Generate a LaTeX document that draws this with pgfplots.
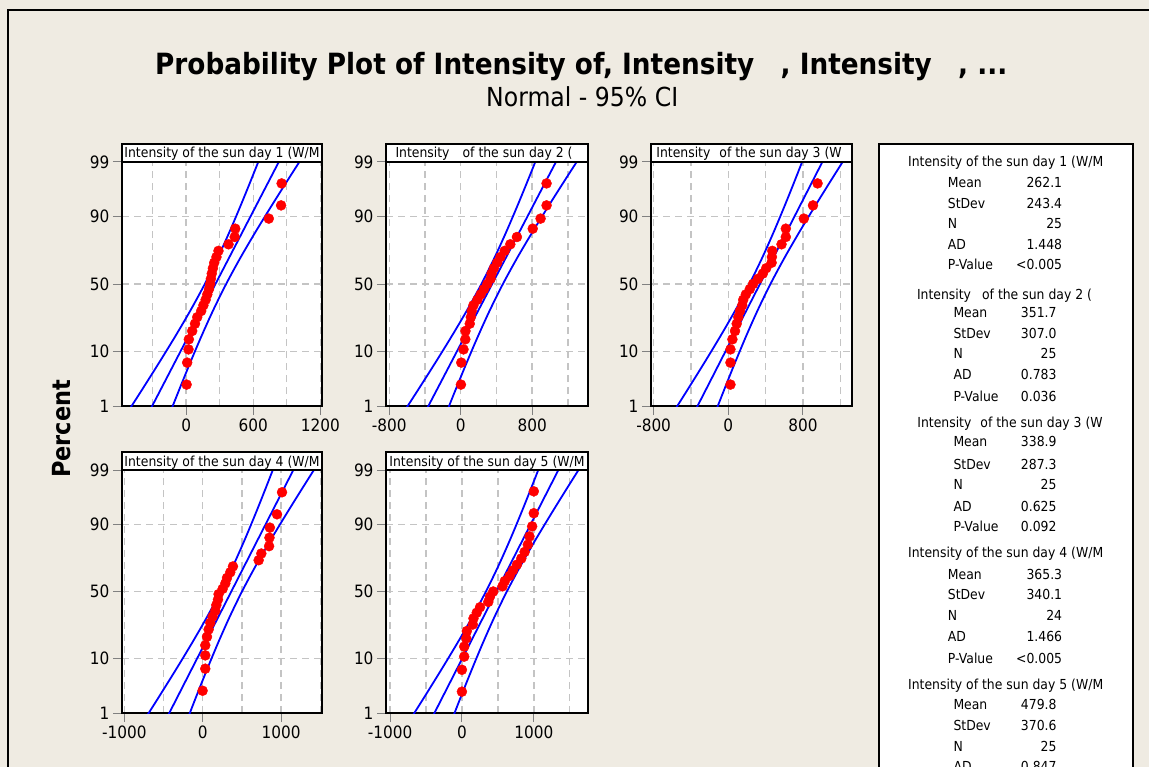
\documentclass[border=0pt]{standalone}
\usepackage{fontspec}
\setmainfont{DejaVu Sans}[FakeStretch=0.9]
\usepackage{pgfplots}
\usepackage{pgfplotstable}
\pgfplotsset{compat=1.18}
\usepackage{graphicx}
\definecolor{bgc}{RGB}{239,235,226}
\definecolor{gridc}{RGB}{196,196,196}
\newcommand{\sfnt}{\fontsize{13.8}{15}\selectfont}

\pgfplotstableread{
z L F U
-2.5 -540.2 -346.4 -152.6
-2.0 -390.0 -224.7 -59.4
-1.5 -242.1 -103.0 36.1
-1.0 -98.2 18.7 135.6
-0.5 39.2 140.4 241.6
0 166.7 262.1 357.5
0.5 282.6 383.8 485.0
1.0 388.7 505.5 622.4
1.5 488.1 627.2 766.3
2.0 583.6 748.9 914.2
2.5 676.8 870.6 1064.4
}\bandA
\pgfplotstableread{
z L F U
-2.5 -660.2 -415.8 -171.4
-2.0 -470.7 -262.3 -53.9
-1.5 -284.2 -108.8 66.6
-1.0 -102.7 44.7 192.1
-0.5 70.6 198.2 325.8
0 231.4 351.7 472.0
0.5 377.6 505.2 632.8
1.0 511.3 658.7 806.1
1.5 636.8 812.2 987.6
2.0 757.3 965.7 1174.1
2.5 874.8 1119.2 1363.6
}\bandB
\pgfplotstableread{
z L F U
-2.5 -608.1 -379.4 -150.6
-2.0 -430.8 -235.7 -40.6
-1.5 -256.2 -92.1 72.1
-1.0 -86.3 51.6 189.5
-0.5 75.8 195.3 314.7
0 226.3 338.9 451.5
0.5 363.1 482.6 602.0
1.0 488.3 626.2 764.1
1.5 605.7 769.9 934.0
2.0 718.4 913.5 1108.6
2.5 828.4 1057.2 1285.9
}\bandC
\pgfplotstableread{
z L F U
-2.5 -761.3 -485.0 -208.6
-2.0 -550.6 -314.9 -79.2
-1.5 -343.2 -144.9 53.5
-1.0 -141.5 25.2 191.9
-0.5 50.9 195.3 339.6
0 229.2 365.3 501.4
0.5 391.0 535.4 679.7
1.0 538.8 705.4 872.1
1.5 677.1 875.5 1073.8
2.0 809.8 1045.5 1281.2
2.5 939.2 1215.6 1491.9
}\bandD
\pgfplotstableread{
z L F U
-2.5 -741.8 -446.7 -151.6
-2.0 -513.0 -261.4 -9.8
-1.5 -287.9 -76.1 135.7
-1.0 -68.7 109.2 287.1
-0.5 140.4 294.5 448.6
0 334.5 479.8 625.1
0.5 511.0 665.1 819.2
1.0 672.5 850.4 1028.3
1.5 823.9 1035.7 1247.5
2.0 969.4 1221.0 1472.6
2.5 1111.2 1406.3 1701.4
}\bandE

\pgfplotsset{
  panel/.style={
    scale only axis,
    ymin=-2.3263, ymax=2.3263,
    ytick={-2.3263,-1.2816,0,1.2816,2.3263},
    yticklabels={1,10,50,90,99},
    tick pos=left, tick align=outside,
    major tick length=9pt, minor tick length=0pt,
    tick style={line width=1pt},
    axis line style={black, line width=1.6pt},
    xmajorgrids, ymajorgrids, xminorgrids,
    major grid style={gridc, line width=1.4pt, dash pattern=on 7pt off 5pt},
    minor grid style={gridc, line width=1.4pt, dash pattern=on 7pt off 5pt},
    axis background/.style={fill=white},
    ticklabel style={font=\fontsize{17}{19}\selectfont},
    /pgf/number format/assume math mode=true,
    /pgf/number format/1000 sep={},
    scaled x ticks=false,
  },
  band/.style={blue, line width=1.8pt, smooth},
  fitl/.style={blue, line width=1.8pt},
  pts/.style={only marks, mark=*, mark size=5pt, mark options={fill=red, draw=red}, red},
}

\begin{document}
\begin{tikzpicture}
\useasboundingbox (0pt,0pt) rectangle (1149pt,-767pt);
\clip (0pt,0pt) rectangle (1149pt,-767pt);
\begin{scope}[x=1pt,y=-1pt]
\fill[bgc] (0,0) rectangle (1149,767);
\draw[line width=1.8pt] (8,767) -- (8,10) -- (1149,10);
\node[anchor=base west, inner sep=0pt] at (155,75) {\resizebox{852pt}{!}{\bfseries Probability Plot of Intensity of, Intensity\hspace{0.9em}, Intensity\hspace{0.9em}, ...}};
\node[anchor=base west, inner sep=0pt] at (486,106.7) {\resizebox{192pt}{!}{Normal - 95\% CI}};
\node[rotate=90, anchor=base west, inner sep=0pt] at (70,478) {\resizebox{98pt}{!}{\bfseries Percent}};
\end{scope}

% Panel 1
\begin{axis}[panel, at={(122pt,-162pt)}, anchor=north west, width=200pt, height=244pt,
  xmin=-574, xmax=1215, xtick={0,600,1200}, minor xtick={-300,300,900}]
\addplot[band] table[x=L,y=z] {\bandA};
\addplot[band] table[x=U,y=z] {\bandA};
\addplot[fitl] table[x=F,y=z] {\bandA};
\addplot[pts] coordinates {(4,-1.918) (9,-1.499) (21,-1.247) (24,-1.055) (54,-0.896) (79,-0.757) (99,-0.632) (134,-0.515) (154,-0.406) (174,-0.301) (189,-0.199) (204,-0.099) (214,0) (221,0.099) (229,0.199) (239,0.301) (251,0.406) (271,0.515) (289,0.632) (379,0.757) (434,0.896) (439,1.055) (739,1.247) (849,1.499) (854,1.918)};
\end{axis}

% Panel 2
\begin{axis}[panel, at={(386pt,-162pt)}, anchor=north west, width=202pt, height=244pt,
  xmin=-837, xmax=1425, xtick={-800,0,800}, minor xtick={-400,400,1200}]
\addplot[band] table[x=L,y=z] {\bandB};
\addplot[band] table[x=U,y=z] {\bandB};
\addplot[fitl] table[x=F,y=z] {\bandB};
\addplot[pts] coordinates {(2,-1.918) (6,-1.499) (31,-1.247) (51,-1.055) (53,-0.896) (101,-0.757) (113,-0.632) (123,-0.515) (142,-0.406) (186,-0.301) (223,-0.199) (260,-0.099) (297,0) (334,0.099) (345,0.199) (371,0.301) (408,0.406) (444,0.515) (492,0.632) (555,0.757) (629,0.896) (806,1.055) (894,1.247) (961,1.499) (961,1.918)};
\end{axis}

% Panel 3
\begin{axis}[panel, at={(651pt,-162pt)}, anchor=north west, width=201pt, height=244pt,
  xmin=-828, xmax=1325, xtick={-800,0,800}, minor xtick={-400,400,1200}]
\addplot[band] table[x=L,y=z] {\bandC};
\addplot[band] table[x=U,y=z] {\bandC};
\addplot[fitl] table[x=F,y=z] {\bandC};
\addplot[pts] coordinates {(23,-1.918) (23,-1.499) (23,-1.247) (44,-1.055) (72,-0.896) (90,-0.757) (107,-0.632) (125,-0.515) (149,-0.406) (160,-0.301) (188,-0.199) (230,-0.099) (265,0) (318,0.099) (370,0.199) (406,0.301) (464,0.406) (467,0.515) (471,0.632) (570,0.757) (616,0.896) (616,1.055) (809,1.247) (907,1.499) (956,1.918)};
\end{axis}

% Panel 4
\begin{axis}[panel, at={(122pt,-470pt)}, anchor=north west, width=200pt, height=243pt,
  xmin=-1029, xmax=1522, xtick={-1000,0,1000}, minor xtick={-500,500,1500}]
\addplot[band] table[x=L,y=z] {\bandD};
\addplot[band] table[x=U,y=z] {\bandD};
\addplot[fitl] table[x=F,y=z] {\bandD};
\addplot[pts] coordinates {(-1,-1.900) (33,-1.478) (33,-1.223) (33,-1.030) (55,-0.868) (76,-0.727) (97,-0.599) (127,-0.480) (161,-0.368) (174,-0.260) (195,-0.155) (203,-0.051) (255,0.051) (289,0.155) (310,0.260) (352,0.368) (386,0.480) (714,0.599) (748,0.727) (847,0.868) (852,1.030) (857,1.223) (948,1.478) (1012,1.900)};
\end{axis}

% Panel 5
\begin{axis}[panel, at={(386pt,-470pt)}, anchor=north west, width=202pt, height=243pt,
  xmin=-1056, xmax=1754, xtick={-1000,0,1000}, minor xtick={-500,500,1500}]
\addplot[band] table[x=L,y=z] {\bandE};
\addplot[band] table[x=U,y=z] {\bandE};
\addplot[fitl] table[x=F,y=z] {\bandE};
\addplot[pts] coordinates {(0,-1.918) (0,-1.499) (32,-1.247) (32,-1.055) (60,-0.896) (69,-0.757) (151,-0.632) (161,-0.515) (206,-0.406) (252,-0.301) (367,-0.199) (390,-0.099) (436,0) (564,0.099) (596,0.199) (665,0.301) (711,0.406) (766,0.515) (826,0.632) (872,0.757) (917,0.896) (940,1.055) (977,1.247) (1000,1.499) (1000,1.918)};
\end{axis}

\begin{scope}[x=1pt,y=-1pt, every node/.style={font=\sfnt, inner sep=0pt}]
% panel title boxes
\draw[fill=white, line width=1.6pt] (122,144) rectangle (322,162);
\draw[fill=white, line width=1.6pt] (386,144) rectangle (588,162);
\draw[fill=white, line width=1.6pt] (651,144) rectangle (852,162);
\draw[fill=white, line width=1.6pt] (122,452) rectangle (322,470);
\draw[fill=white, line width=1.6pt] (386,452) rectangle (588,470);
\node[anchor=base] at (222,158) {Intensity of the sun day 1 (W/M};
\node[anchor=base] at (484,158) {Intensity\hspace{13pt}of the sun day 2 (};
\node[anchor=base] at (749,158) {Intensity\hspace{9pt}of the sun day 3 (W};
\node[anchor=base] at (222,466) {Intensity of the sun day 4 (W/M};
\node[anchor=base] at (487,466) {Intensity of the sun day 5 (W/M};
% statistics box
\draw[fill=white, line width=1.8pt] (879,144) rectangle (1133,800);
% group 1
\node[anchor=base] at (1005.7,166.7) {Intensity of the sun day 1 (W/M};
\node[anchor=base west] at (947.7,187.7) {Mean};   \node[anchor=base east] at (1062.3,187.7) {262.1};
\node[anchor=base west] at (947.7,208.3) {StDev};  \node[anchor=base east] at (1062.3,208.3) {243.4};
\node[anchor=base west] at (947.7,228.3) {N};      \node[anchor=base east] at (1062.3,228.3) {25};
\node[anchor=base west] at (947.7,249.3) {AD};     \node[anchor=base east] at (1062.3,249.3) {1.448};
\node[anchor=base west] at (947.7,270) {P-Value};  \node[anchor=base east] at (1062.3,270) {<0.005};
% group 2
\node[anchor=base] at (1004.5,300) {Intensity\hspace{11pt}of the sun day 2 (};
\node[anchor=base west] at (953.3,317.7) {Mean};   \node[anchor=base east] at (1056.7,317.7) {351.7};
\node[anchor=base west] at (953.3,338.3) {StDev};  \node[anchor=base east] at (1056.7,338.3) {307.0};
\node[anchor=base west] at (953.3,358.3) {N};      \node[anchor=base east] at (1056.7,358.3) {25};
\node[anchor=base west] at (953.3,379.3) {AD};     \node[anchor=base east] at (1056.7,379.3) {0.783};
\node[anchor=base west] at (953.3,401) {P-Value};  \node[anchor=base east] at (1056.7,401) {0.036};
% group 3
\node[anchor=base] at (1010,427.7) {Intensity\hspace{9pt}of the sun day 3 (W};
\node[anchor=base west] at (953.3,446.7) {Mean};   \node[anchor=base east] at (1056.7,446.7) {338.9};
\node[anchor=base west] at (953.3,469.3) {StDev};  \node[anchor=base east] at (1056.7,469.3) {287.3};
\node[anchor=base west] at (953.3,489.3) {N};      \node[anchor=base east] at (1056.7,489.3) {25};
\node[anchor=base west] at (953.3,511) {AD};       \node[anchor=base east] at (1056.7,511) {0.625};
\node[anchor=base west] at (953.3,531.7) {P-Value};\node[anchor=base east] at (1056.7,531.7) {0.092};
% group 4
\node[anchor=base] at (1005.7,557.7) {Intensity of the sun day 4 (W/M};
\node[anchor=base west] at (947.7,579.3) {Mean};   \node[anchor=base east] at (1062.3,579.3) {365.3};
\node[anchor=base west] at (947.7,599.3) {StDev};  \node[anchor=base east] at (1062.3,599.3) {340.1};
\node[anchor=base west] at (947.7,620.7) {N};      \node[anchor=base east] at (1062.3,620.7) {24};
\node[anchor=base west] at (947.7,641.7) {AD};     \node[anchor=base east] at (1062.3,641.7) {1.466};
\node[anchor=base west] at (947.7,663.3) {P-Value};\node[anchor=base east] at (1062.3,663.3) {<0.005};
% group 5
\node[anchor=base] at (1005.7,689.3) {Intensity of the sun day 5 (W/M};
\node[anchor=base west] at (953.3,709.3) {Mean};   \node[anchor=base east] at (1056.7,709.3) {479.8};
\node[anchor=base west] at (953.3,730.7) {StDev};  \node[anchor=base east] at (1056.7,730.7) {370.6};
\node[anchor=base west] at (953.3,751) {N};        \node[anchor=base east] at (1056.7,751) {25};
\node[anchor=base west] at (953.3,771.7) {AD};     \node[anchor=base east] at (1056.7,771.7) {0.847};
\end{scope}
\end{tikzpicture}
\end{document}
